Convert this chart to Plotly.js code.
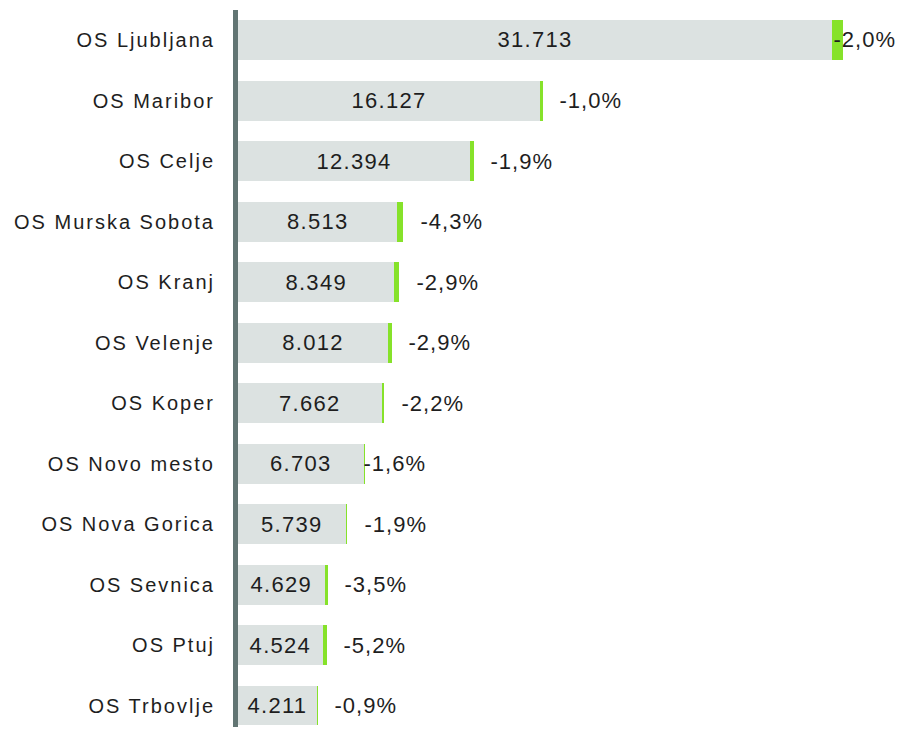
<!DOCTYPE html>
<html>
<head>
<meta charset="utf-8">
<script src="https://cdn.plot.ly/plotly-3.0.1.min.js"></script>
<style>
  html, body { margin: 0; padding: 0; background: #fff; }
  #chart { width: 903px; height: 729px; }
  #chart svg .ytick text { letter-spacing: 2px; }
  #chart svg text.bartext { letter-spacing: 1.3px; }
  #chart svg text.annotation-text { letter-spacing: 1px; }
</style>
</head>
<body>
<div id="chart"></div>
<script>
// Data
var offices = ["OS Ljubljana", "OS Maribor", "OS Celje", "OS Murska Sobota", "OS Kranj",
  "OS Velenje", "OS Koper", "OS Novo mesto", "OS Nova Gorica", "OS Sevnica", "OS Ptuj", "OS Trbovlje"];
var values = [31713, 16127, 12394, 8513, 8349, 8012, 7662, 6703, 5739, 4629, 4524, 4211];
var changePct = [-2.0, -1.0, -1.9, -4.3, -2.9, -2.9, -2.2, -1.6, -1.9, -3.5, -5.2, -0.9];
// Size of the decline (green segment)
var decline = [560, 140, 200, 300, 230, 200, 150, 100, 100, 150, 220, 50];

// label placement tweaks (pixels), not data
var labelShift = [-9, 17, 17, 18, 18, 17, 18, -1, 18, 17, 17, 17];

var pctLabels = changePct.map(function (p) { return p.toFixed(1).replace('.', ',') + '%'; });

var traces = [
  {
    type: 'bar', orientation: 'h',
    y: offices, x: values,
    marker: { color: '#dce2e1' },
    text: values, texttemplate: '%{x:,}',
    textposition: 'inside', insidetextanchor: 'middle',
    textfont: { family: 'Liberation Sans, Arial, sans-serif', size: 22, color: '#1e1e1e' },
    constraintext: 'none',
    hoverinfo: 'none'
  },
  {
    type: 'bar', orientation: 'h',
    y: offices, x: decline,
    marker: { color: '#86e22a' },
    hoverinfo: 'none'
  }
];

var annotations = offices.map(function (o, i) {
  return {
    x: values[i] + decline[i], y: o, xref: 'x', yref: 'y',
    text: pctLabels[i], showarrow: false,
    xanchor: 'left', yanchor: 'middle', xshift: labelShift[i],
    font: { family: 'Liberation Sans, Arial, sans-serif', size: 22, color: '#1e1e1e' }
  };
});

var layout = {
  width: 903, height: 729,
  margin: { l: 238, r: 0, t: 10, b: 4 },
  paper_bgcolor: '#ffffff', plot_bgcolor: '#ffffff',
  barmode: 'stack', bargap: 0.34,
  separators: ',.',
  showlegend: false,
  xaxis: { range: [0, 35500], visible: false, fixedrange: true },
  yaxis: {
    type: 'category',
    range: [11.314, -0.495],
    showgrid: false, zeroline: false, showline: false,
    ticks: 'outside', ticklen: 18, tickcolor: 'rgba(0,0,0,0)',
    tickfont: { family: 'Liberation Sans, Arial, sans-serif', size: 20, color: '#1e1e1e' },
    fixedrange: true
  },
  shapes: [{
    type: 'rect', xref: 'paper', yref: 'paper',
    x0: -5 / 665, x1: 0, y0: -2 / 715, y1: 1,
    fillcolor: '#627573', line: { width: 0 }, layer: 'above'
  }],
  annotations: annotations
};

Plotly.newPlot('chart', traces, layout, { displayModeBar: false, staticPlot: true });
</script>
</body>
</html>
